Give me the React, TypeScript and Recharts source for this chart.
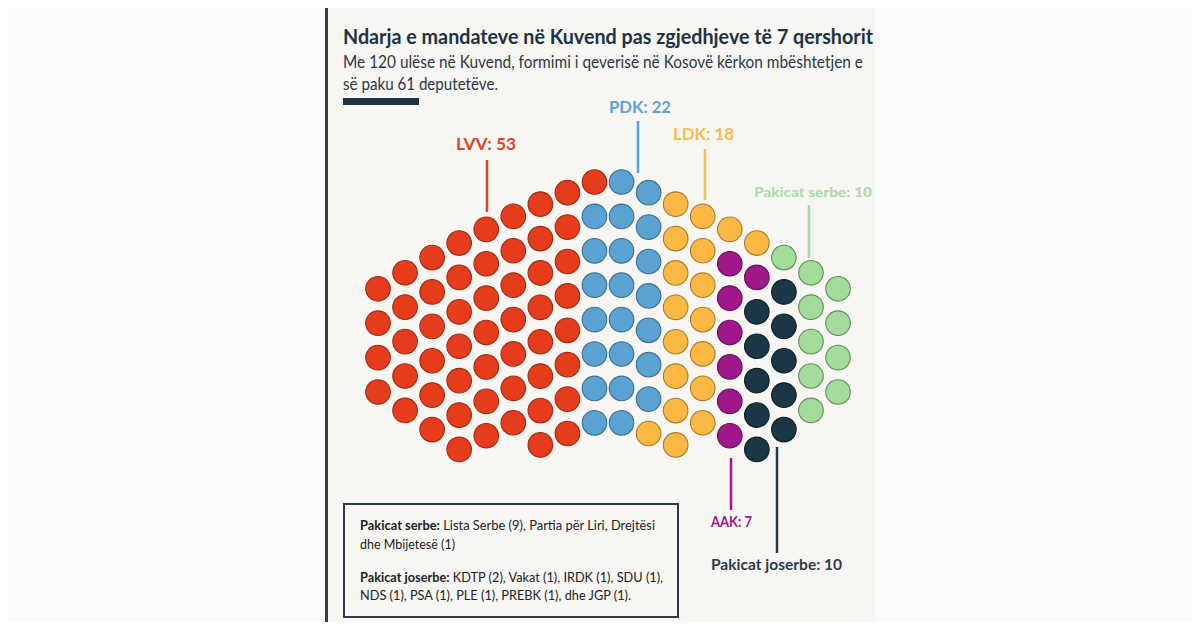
import { ScatterChart, Scatter, XAxis, YAxis } from "recharts";

const parties = ["LVV", "PDK", "LDK", "AAK", "Pakicat joserbe", "Pakicat serbe"];
const seats = [53, 22, 18, 7, 10, 10];
const fills = ["#E63C1B", "#5AA2D1", "#FBB843", "#A0168B", "#1B3746", "#A3DB9B"];
const strokes = ["#9E2B13", "#3C6F8F", "#A87B2C", "#650D57", "#0C1D26", "#5F8E59"];

// seats in each column of the hemicycle, top to bottom
const columns: [string, number][][] = [
  [["LVV", 4]],
  [["LVV", 5]],
  [["LVV", 6]],
  [["LVV", 7]],
  [["LVV", 7]],
  [["LVV", 7]],
  [["LVV", 8]],
  [["LVV", 8]],
  [["LVV", 1], ["PDK", 7]],
  [["PDK", 8]],
  [["PDK", 7], ["LDK", 1]],
  [["LDK", 8]],
  [["LDK", 7]],
  [["LDK", 1], ["AAK", 6]],
  [["LDK", 1], ["AAK", 1], ["Pakicat joserbe", 5]],
  [["Pakicat serbe", 1], ["Pakicat joserbe", 5]],
  [["Pakicat serbe", 5]],
  [["Pakicat serbe", 4]],
];

const legendSerbe = "Lista Serbe (9), Partia për Liri, Drejtësi";
const legendSerbe2 = "dhe Mbijetesë (1)";
const legendJoserbe = "KDTP (2), Vakat (1), IRDK (1), SDU (1),";
const legendJoserbe2 = "NDS (1), PSA (1), PLE (1), PREBK (1), dhe JGP (1).";

// columns drop away from the middle along a gentle arc
const mid = (columns.length - 1) / 2;
const arc = (c: number) => {
  const d = Math.abs(c - mid) - 0.5;
  return 0.3 * d + 0.011 * d * d;
};

const points = columns.flatMap((col, c) => {
  let k = 0;
  return col.flatMap(([party, n]) =>
    Array.from({ length: n }, () => ({ x: c, y: arc(c) + k++, party }))
  );
});
const maxY = Math.max(...points.map((p) => p.y));

const W = 1200;
const H = 630;
const colStep = 27.06;
const rowStep = 34.4;
const left = 378;
const top = 182;

const font = "Lato, 'Open Sans', sans-serif";

export default function App() {
  return (
    <div style={{ position: "relative", width: W, height: H, margin: -8, background: "#FAFBFC", overflow: "hidden" }}>
      <div style={{ position: "absolute", left: 328, top: 0, width: 547, height: H, background: "#F7F6F2" }} />
      <div style={{ position: "absolute", left: 325, top: 0, width: 3, height: H, background: "#3A3D40" }} />
      <div style={{ position: "absolute", left: 0, top: 0 }}>
        <ScatterChart
          width={W}
          height={H}
          margin={{ top, left, right: W - left - colStep * (columns.length - 1), bottom: H - top - rowStep * maxY }}
        >
          <XAxis type="number" dataKey="x" domain={[0, columns.length - 1]} hide />
          <YAxis type="number" dataKey="y" domain={[0, maxY]} reversed hide />
          {parties.map((p, i) => (
            <Scatter
              key={p}
              name={`${p}: ${seats[i]}`}
              data={points.filter((pt) => pt.party === p)}
              isAnimationActive={false}
              shape={(props: any) => (
                <circle cx={props.cx} cy={props.cy} r={12.3} fill={fills[i]} stroke={strokes[i]} strokeWidth={1.1} />
              )}
            />
          ))}
        </ScatterChart>
      </div>
      <svg width={W} height={H} style={{ position: "absolute", left: 0, top: 0, pointerEvents: "none" }} fontFamily={font}>
        <text x={343} y={44} fontSize={21} fontWeight={700} fill="#1C3344" textLength={530} lengthAdjust="spacingAndGlyphs">
          Ndarja e mandateve në Kuvend pas zgjedhjeve të 7 qershorit
        </text>
        <text x={343} y={68} fontSize={16.5} fill="#2B3945" textLength={520} lengthAdjust="spacingAndGlyphs">
          Me 120 ulëse në Kuvend, formimi i qeverisë në Kosovë kërkon mbështetjen e
        </text>
        <text x={343} y={90} fontSize={16.5} fill="#2B3945" textLength={155} lengthAdjust="spacingAndGlyphs">
          së paku 61 deputetëve.
        </text>
        <rect x={343} y={98} width={76} height={7} fill="#1C3344" />

        <text x={609} y={113} fontSize={17} fontWeight={700} fill={fills[1]} textLength={62} lengthAdjust="spacingAndGlyphs">
          {`${parties[1]}: ${seats[1]}`}
        </text>
        <line x1={638} x2={638} y1={121} y2={173} stroke={fills[1]} strokeWidth={2.5} />

        <text x={456} y={150} fontSize={17} fontWeight={700} fill="#D8462A" textLength={60} lengthAdjust="spacingAndGlyphs">
          {`${parties[0]}: ${seats[0]}`}
        </text>
        <line x1={487} x2={487} y1={160} y2={212} stroke="#D8462A" strokeWidth={2.5} />

        <text x={673} y={140} fontSize={17} fontWeight={700} fill="#F6BC4E" textLength={61} lengthAdjust="spacingAndGlyphs">
          {`${parties[2]}: ${seats[2]}`}
        </text>
        <line x1={705} x2={705} y1={149} y2={200} stroke="#F6BC4E" strokeWidth={2.5} />

        <text x={754} y={197} fontSize={14} fontWeight={700} fill="#A8DBA0" textLength={118} lengthAdjust="spacingAndGlyphs">
          {`${parties[5]}: ${seats[5]}`}
        </text>
        <line x1={809} x2={809} y1={205} y2={258} stroke="#A8DBA0" strokeWidth={2.5} />

        <line x1={731} x2={731} y1={458} y2={510} stroke={fills[3]} strokeWidth={2.5} />
        <text x={711} y={527} fontSize={14.5} fontWeight={700} fill={fills[3]} textLength={41} lengthAdjust="spacingAndGlyphs">
          {`${parties[3]}: ${seats[3]}`}
        </text>

        <line x1={777} x2={777} y1={447} y2={553} stroke="#24394A" strokeWidth={2.5} />
        <text x={711} y={570} fontSize={15} fontWeight={700} fill="#2A3D4B" textLength={131} lengthAdjust="spacingAndGlyphs">
          {`${parties[4]}: ${seats[4]}`}
        </text>

        <rect x={344} y={504} width={334} height={113} fill="none" stroke="#2E3C47" strokeWidth={2} />
        <text x={360} y={530} fontSize={13} fill="#222" textLength={295} lengthAdjust="spacingAndGlyphs">
          <tspan fontWeight={700}>Pakicat serbe:</tspan> {legendSerbe}
        </text>
        <text x={360} y={549} fontSize={13} fill="#222" textLength={95} lengthAdjust="spacingAndGlyphs">
          {legendSerbe2}
        </text>
        <text x={360} y={582} fontSize={13} fill="#222" textLength={303} lengthAdjust="spacingAndGlyphs">
          <tspan fontWeight={700}>Pakicat joserbe:</tspan> {legendJoserbe}
        </text>
        <text x={360} y={600} fontSize={13} fill="#222" textLength={271} lengthAdjust="spacingAndGlyphs">
          {legendJoserbe2}
        </text>
      </svg>
    </div>
  );
}
